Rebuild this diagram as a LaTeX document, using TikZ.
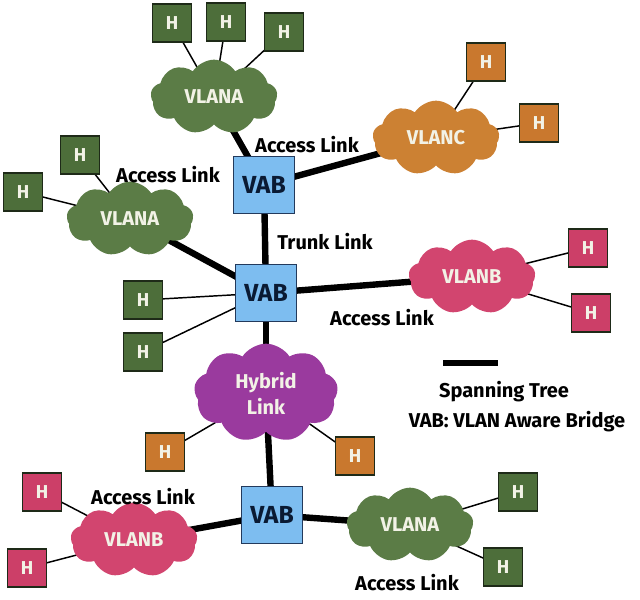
\documentclass[tikz,border=0pt]{standalone}
\usepackage{fontspec}
\setmainfont{Fira Sans}
\usetikzlibrary{shapes.symbols}
\pgfdeclarelayer{bg}
\pgfdeclarelayer{lines}
\pgfsetlayers{bg,lines,main}
\definecolor{gfill}{HTML}{5B7C46}
\definecolor{ghost}{HTML}{4D6E3A}
\definecolor{ofill}{HTML}{CC8133}
\definecolor{ohost}{HTML}{C9782E}
\definecolor{pfill}{HTML}{D2456F}
\definecolor{phost}{HTML}{CC3F68}
\definecolor{ufill}{HTML}{9A3A9E}
\definecolor{vabblue}{HTML}{7DBDF0}
\definecolor{vabedge}{HTML}{233A5C}
\definecolor{vabtext}{HTML}{0A1A33}
\definecolor{hedge}{HTML}{1E2A18}
\definecolor{ctext}{HTML}{F2F2E6}
\begin{document}
\begin{tikzpicture}[x=0.75pt,y=-0.75pt,
  host/.style={draw=hedge, line width=1.1pt, minimum width=29.5pt, minimum height=28.5pt, inner sep=0pt,
    text=ctext, font=\bfseries\fontsize{14}{14}\selectfont},
  vab/.style={draw=vabedge, fill=vabblue, line width=0.9pt, minimum width=46pt, minimum height=43pt, inner sep=0pt,
    text=vabtext, font=\bfseries\fontsize{18.5}{18.5}\selectfont},
  lan/.style={cloud, cloud puffs=9, cloud puff arc=115, cloud ignores aspect, inner sep=0pt,
    minimum width=95pt, minimum height=56pt, text=ctext, font=\bfseries\fontsize{15}{15}\selectfont},
  link/.style={line width=4.8pt},
  hlink/.style={line width=1.1pt},
  lbl/.style={font=\bfseries\fontsize{15}{15}\selectfont, text=black}]
\begin{pgfonlayer}{bg}
\fill[white] (0,0) rectangle (640,600);
\end{pgfonlayer}
\path[use as bounding box] (0,0) rectangle (640,600);

% bridges
\node[vab] (vab1) at (264,185) {VAB};
\node[vab] (vab2) at (266,293) {VAB};
\node[vab] (vab3) at (272,515) {VAB};

% clouds
\node[lan, fill=gfill] (top) at (214,97) {VLANA};
\node[lan, fill=ofill] (lanc) at (436,138) {VLANC};
\node[lan, fill=gfill] (left) at (130,219) {VLANA};
\node[lan, fill=pfill] (lanb) at (472,277) {VLANB};
\node[lan, fill=ufill, minimum width=108pt, minimum height=74pt, align=center] (hyb) at (266,393) {Hybrid\\[3pt]Link};
\node[lan, fill=pfill] (blb) at (134,540) {VLANB};
\node[lan, fill=gfill] (bra) at (410,525) {VLANA};

% hosts
\node[host, fill=ghost] (h1) at (172,23) {H};
\node[host, fill=ghost] (h2) at (226,22) {H};
\node[host, fill=ghost] (h3) at (284,32) {H};
\node[host, fill=ohost] (h4) at (486,62) {H};
\node[host, fill=ohost] (h5) at (539,123) {H};
\node[host, fill=ghost] (h6) at (80,155) {H};
\node[host, fill=ghost] (h7) at (23,192) {H};
\node[host, fill=phost] (h8) at (588,248) {H};
\node[host, fill=phost] (h9) at (591,313) {H};
\node[host, fill=ghost] (h10) at (143,300) {H};
\node[host, fill=ghost] (h11) at (143,352) {H};
\node[host, fill=ohost] (h12) at (165,452) {H};
\node[host, fill=ohost] (h13) at (355,456) {H};
\node[host, fill=phost] (h14) at (42,492) {H};
\node[host, fill=phost] (h15) at (27,568) {H};
\node[host, fill=ghost] (h16) at (518,492) {H};
\node[host, fill=ghost] (h17) at (503,567) {H};

% labels
\node[lbl] (l1) at (307,145) {Access Link};
\node[lbl] (l2) at (168,175) {Access Link};
\node[lbl] (l3) at (325,242) {Trunk Link};
\node[lbl] (l4) at (382,318) {Access Link};
\node[lbl] (l5) at (143,497) {Access Link};
\node[lbl] (l6) at (407,583) {Access Link};
\coordinate (s1) at (443,363);
\coordinate (s2) at (498,363);
\node[lbl] (st) at (504,392) {Spanning Tree};
\node[lbl] (vd) at (517,422) {VAB: VLAN Aware Bridge};

\begin{pgfonlayer}{lines}
\draw[link] (top.center) -- (vab1.center);
\draw[link] (vab1.center) -- (lanc.center);
\draw[link] (vab1.center) -- (vab2.center);
\draw[link] (left.center) -- (vab2.center);
\draw[link] (vab2.center) -- (lanb.center);
\draw[link] (vab2.center) -- (hyb.center);
\draw[link] (hyb.center) -- (vab3.center);
\draw[link] (vab3.center) -- (blb.center);
\draw[link] (vab3.center) -- (bra.center);
\draw[link] (s1) -- (s2);
\draw[hlink] (h1.center) -- (top.center);
\draw[hlink] (h2.center) -- (top.center);
\draw[hlink] (h3.center) -- (top.center);
\draw[hlink] (h4.center) -- (lanc.center);
\draw[hlink] (h5.center) -- (lanc.center);
\draw[hlink] (h6.center) -- (left.center);
\draw[hlink] (h7.center) -- (left.center);
\draw[hlink] (h8.center) -- (lanb.center);
\draw[hlink] (h9.center) -- (lanb.center);
\draw[hlink] (h10.center) -- (vab2.center);
\draw[hlink] (h11.center) -- (vab2.center);
\draw[hlink] (h12.center) -- (hyb.center);
\draw[hlink] (h13.center) -- (hyb.center);
\draw[hlink] (h14.center) -- (blb.center);
\draw[hlink] (h15.center) -- (blb.center);
\draw[hlink] (h16.center) -- (bra.center);
\draw[hlink] (h17.center) -- (bra.center);
\end{pgfonlayer}
\end{tikzpicture}
\end{document}
